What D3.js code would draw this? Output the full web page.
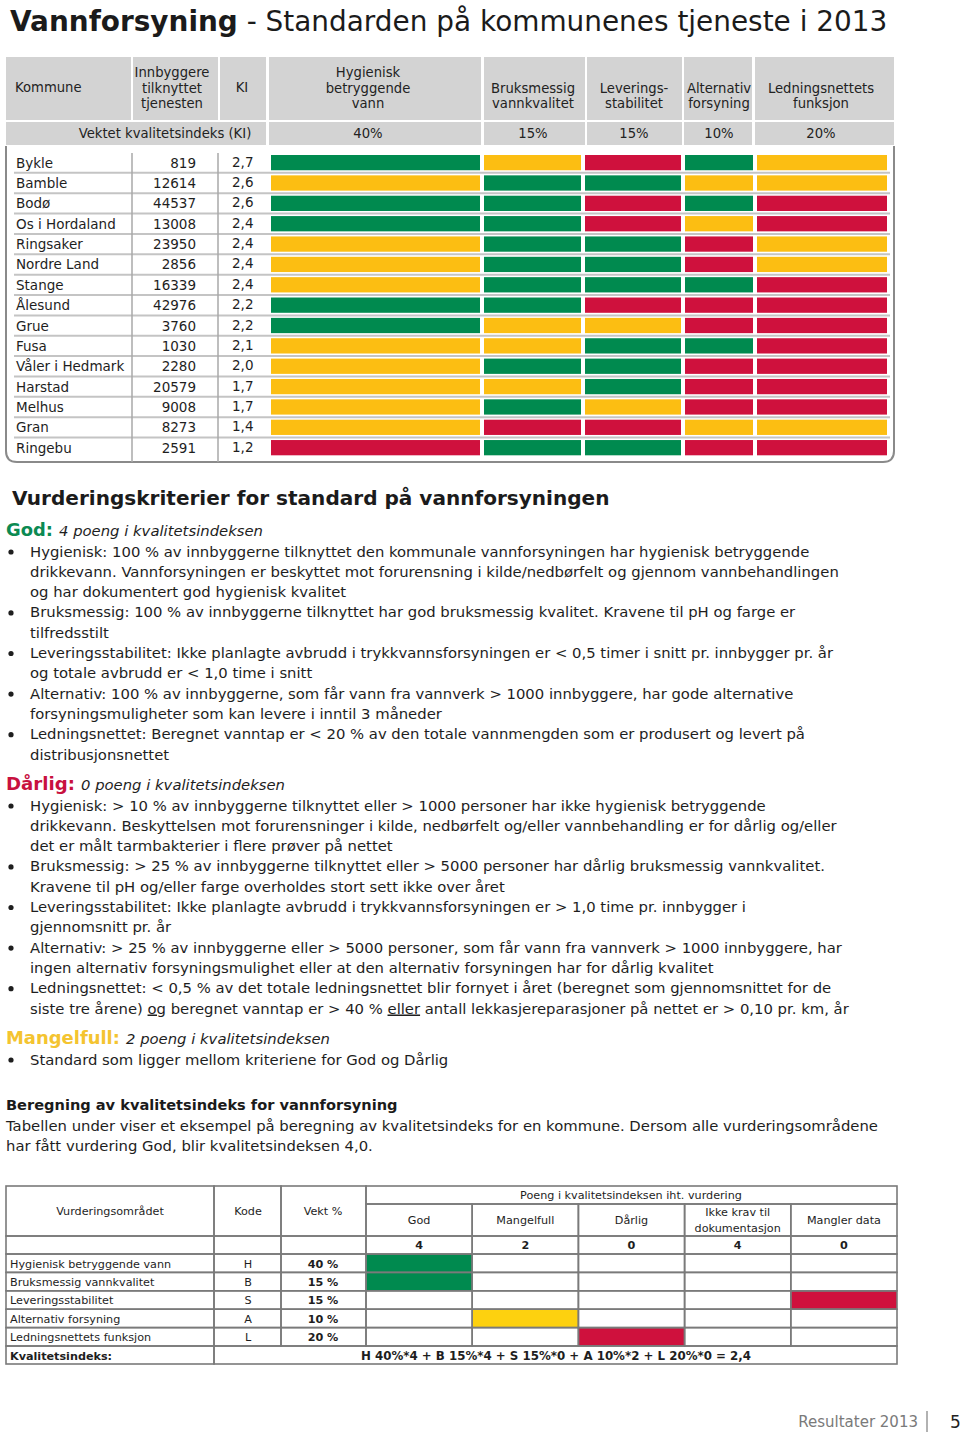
<!DOCTYPE html>
<html><head><meta charset="utf-8">
<script src="https://cdn.jsdelivr.net/npm/d3@7"></script>
<style>body{margin:0;background:#fff}svg{display:block}text{font-family:"DejaVu Sans",Verdana,sans-serif}</style>
</head><body><svg id="c" width="960" height="1434"></svg>
<script>
// ---------------- DATA ----------------
const municipalities = ["Bykle","Bamble","Bodø","Os i Hordaland","Ringsaker","Nordre Land","Stange","Ålesund","Grue","Fusa","Våler i Hedmark","Harstad","Melhus","Gran","Ringebu"];
const population = [819,12614,44537,13008,23950,2856,16339,42976,3760,1030,2280,20579,9008,8273,2591];
const kiValues = [2.7,2.6,2.6,2.4,2.4,2.4,2.4,2.2,2.2,2.1,2.0,1.7,1.7,1.4,1.2];
const criteriaKeys = ["hyg","bruk","lev","alt","led"];
const criteriaLabels = [["Hygienisk","betryggende","vann"],["Bruksmessig","vannkvalitet"],["Leverings-","stabilitet"],["Alternativ","forsyning"],["Ledningsnettets","funksjon"]];
const criteriaWeights = ["40%","15%","15%","10%","20%"];
const ratingHyg  = ["God","Mangelfull","God","God","Mangelfull","Mangelfull","Mangelfull","God","God","Mangelfull","Mangelfull","Mangelfull","Mangelfull","Mangelfull","Dårlig"];
const ratingBruk = ["Mangelfull","God","God","God","God","God","God","God","Mangelfull","Mangelfull","God","Mangelfull","God","Dårlig","God"];
const ratingLev  = ["Dårlig","God","Dårlig","Dårlig","God","God","God","Dårlig","Mangelfull","God","God","God","Mangelfull","Dårlig","God"];
const ratingAlt  = ["God","Mangelfull","God","Mangelfull","Dårlig","Dårlig","God","Dårlig","Dårlig","God","Dårlig","Dårlig","Dårlig","Mangelfull","Dårlig"];
const ratingLed  = ["Mangelfull","Mangelfull","Dårlig","Dårlig","Mangelfull","Mangelfull","Dårlig","Dårlig","Dårlig","Dårlig","Dårlig","Dårlig","Dårlig","Mangelfull","Dårlig"];
const ratings = [ratingHyg, ratingBruk, ratingLev, ratingAlt, ratingLed];

const godLines = [
 ["Hygienisk: 100 % av innbyggerne tilknyttet den kommunale vannforsyningen har hygienisk betryggende","drikkevann. Vannforsyningen er beskyttet mot forurensning i kilde/nedbørfelt og gjennom vannbehandlingen","og har dokumentert god hygienisk kvalitet"],
 ["Bruksmessig: 100 % av innbyggerne tilknyttet har god bruksmessig kvalitet. Kravene til pH og farge er","tilfredsstilt"],
 ["Leveringsstabilitet: Ikke planlagte avbrudd i trykkvannsforsyningen er < 0,5 timer i snitt pr. innbygger pr. år","og totale avbrudd er < 1,0 time i snitt"],
 ["Alternativ: 100 % av innbyggerne, som får vann fra vannverk > 1000 innbyggere, har gode alternative","forsyningsmuligheter som kan levere i inntil 3 måneder"],
 ["Ledningsnettet: Beregnet vanntap er < 20 % av den totale vannmengden som er produsert og levert på","distribusjonsnettet"]
];
const darligLines = [
 ["Hygienisk: > 10 % av innbyggerne tilknyttet eller > 1000 personer har ikke hygienisk betryggende","drikkevann. Beskyttelsen mot forurensninger i kilde, nedbørfelt og/eller vannbehandling er for dårlig og/eller","det er målt tarmbakterier i flere prøver på nettet"],
 ["Bruksmessig: > 25 % av innbyggerne tilknyttet eller > 5000 personer har dårlig bruksmessig vannkvalitet.","Kravene til pH og/eller farge overholdes stort sett ikke over året"],
 ["Leveringsstabilitet: Ikke planlagte avbrudd i trykkvannsforsyningen er > 1,0 time pr. innbygger i","gjennomsnitt pr. år"],
 ["Alternativ: > 25 % av innbyggerne eller > 5000 personer, som får vann fra vannverk > 1000 innbyggere, har","ingen alternativ forsyningsmulighet eller at den alternativ forsyningen har for dårlig kvalitet"],
 ["Ledningsnettet: < 0,5 % av det totale ledningsnettet blir fornyet i året (beregnet som gjennomsnittet for de","siste tre årene) |og| beregnet vanntap er > 40 % |eller| antall lekkasjereparasjoner på nettet er > 0,10 pr. km, år"]
];
const mangelLines = [["Standard som ligger mellom kriteriene for God og Dårlig"]];
const introLines = ["Tabellen under viser et eksempel på beregning av kvalitetsindeks for en kommune. Dersom alle vurderingsområdene","har fått vurdering God, blir kvalitetsindeksen 4,0."];

const exAreas = ["Hygienisk betryggende vann","Bruksmessig vannkvalitet","Leveringsstabilitet","Alternativ forsyning","Ledningsnettets funksjon"];
const exCodes = ["H","B","S","A","L"];
const exWeights = ["40 %","15 %","15 %","10 %","20 %"];
const exRatings = ["God","God","Mangler data","Mangelfull","Dårlig"];
const scoreCols = ["God","Mangelfull","Dårlig","Ikke krav til|dokumentasjon","Mangler data"];
const scorePoints = ["4","2","0","4","0"];
const exFormula = "H 40%*4 + B 15%*4 + S 15%*0 + A 10%*2 + L 20%*0 = 2,4";

// ---------------- DRAW ----------------
const svg = d3.select("#c");
svg.append("rect").attr("width",960).attr("height",1434).attr("fill","#fff");
function fit(sel, target){ const w = sel.node().getComputedTextLength(); const fs = parseFloat(sel.attr("font-size")); const n = fs*target/w; sel.attr("font-size", n); return n; }

// title
const title = svg.append("text").attr("x",10).attr("y",31).attr("font-size",28).attr("fill","#1b1b1b");
title.append("tspan").attr("font-weight","bold").text("Vannforsyning");
title.append("tspan").text(" - Standarden på kommunenes tjeneste i 2013");
fit(title, 878);

// top table
const gray = "#d3d3d3";
const color = d3.scaleOrdinal().domain(["God","Mangelfull","Dårlig"]).range(["#008a4f","#fcbe12","#cf113d"]);
const headX = d3.scaleOrdinal().domain(criteriaKeys).range([[269,481],[484,585],[587,682],[684,752],[755,894]]);
const headTx = d3.scaleOrdinal().domain(criteriaKeys).range([368,533,634,719,821]);
const barX  = d3.scaleOrdinal().domain(criteriaKeys).range([[271,480],[484,581],[585,681],[685,753],[757,887]]);
const y = d3.scaleBand().domain(municipalities).range([155, 155 + 20.36*14.75]).paddingInner(0.25).paddingOuter(0);

const fixedCols = [{lines:["Kommune"],x0:6,x1:131,anchor:"start",tx:15},{lines:["Innbyggere","tilknyttet","tjenesten"],x0:133,x1:218,tx:172},{lines:["KI"],x0:220,x1:266,tx:242}];
const hdr = svg.append("g").attr("font-size",13.2).attr("fill","#222");
function headerCell(lines,x0,x1,anchor,tx){
  hdr.append("rect").attr("x",x0).attr("y",57).attr("width",x1-x0).attr("height",63).attr("fill",gray);
  const n = lines.length;
  lines.forEach((l,i)=>{
    const yy = 108 - (n-1-i)*15.5;
    hdr.append("text").attr("x", tx).attr("y", n===1? 92 : yy)
      .attr("text-anchor", anchor||"middle").text(l);
  });
}
fixedCols.forEach(c=>headerCell(c.lines,c.x0,c.x1,c.anchor,c.tx));
criteriaKeys.forEach((k,i)=>headerCell(criteriaLabels[i], headX(k)[0], headX(k)[1], "middle", headTx(k)));
// weights row
hdr.append("rect").attr("x",6).attr("y",122).attr("width",260).attr("height",23).attr("fill",gray);
hdr.append("text").attr("x",165).attr("y",138).attr("text-anchor","middle").text("Vektet kvalitetsindeks (KI)");
criteriaKeys.forEach((k,i)=>{
  const [x0,x1]=headX(k);
  hdr.append("rect").attr("x",x0).attr("y",122).attr("width",x1-x0).attr("height",23).attr("fill",gray);
  hdr.append("text").attr("x",headTx(k)).attr("y",138).attr("text-anchor","middle").text(criteriaWeights[i]);
});

// body
const body = svg.append("g");
municipalities.forEach((m,i)=>{
  if(i<municipalities.length-1){
    body.append("line").attr("x1",14).attr("x2",890).attr("y1",y(m)+y.bandwidth()+2.6).attr("y2",y(m)+y.bandwidth()+2.6)
      .attr("stroke","#c4c4c4").attr("stroke-width",2);
  }
});
body.append("path").attr("d","M6,146 V451 Q6,462 17,462 H883 Q894,462 894,451 V146").attr("fill","none").attr("stroke","#8a8a8a").attr("stroke-width",2);
[132,218].forEach(x=>body.append("line").attr("x1",x).attr("x2",x).attr("y1",153).attr("y2",462).attr("stroke","#a8a8a8").attr("stroke-width",1.5));
const fmt = v => d3.format(".1f")(v).replace(".",",");
const tg = body.append("g").attr("font-size",13.5).attr("fill","#1e1e1e");
municipalities.forEach((m,i)=>{
  const cy = y(m)+y.bandwidth()/2+5;
  tg.append("text").attr("x",16).attr("y",cy).text(m);
  tg.append("text").attr("x",196).attr("y",cy).attr("text-anchor","end").text(population[i]);
  tg.append("text").attr("x",232).attr("y",cy-1).text(fmt(kiValues[i]));
  criteriaKeys.forEach((k,j)=>{
    const [x0,x1]=barX(k);
    body.append("rect").attr("x",x0).attr("y",y(m)).attr("width",x1-x0).attr("height",y.bandwidth()).attr("fill",color(ratings[j][i]));
  });
});

// criteria text
svg.append("text").attr("x",12).attr("y",505).attr("font-size",20).attr("font-weight","bold").attr("fill","#1b1b1b")
  .text("Vurderingskriterier for standard på vannforsyningen").call(s=>fit(s,598));

const measure = svg.append("text").attr("font-size",14.5).text(godLines[0][0]);
const bodyFs = fit(measure, 780); measure.remove();
const LH = 20.3;

function section(label, labelColor, labelW, italic, italX, yHead, groups){
  const t = svg.append("text").attr("x",6).attr("y",yHead).attr("font-size",19).attr("font-weight","bold").attr("fill",labelColor).text(label);
  fit(t,labelW);
  svg.append("text").attr("x",italX).attr("y",yHead).attr("font-size",bodyFs).attr("font-style","italic").attr("fill","#1e1e1e").text(italic);
  let yy = yHead + 20.5;
  groups.forEach(g=>{
    svg.append("circle").attr("cx",11).attr("cy",yy-4.5).attr("r",2.6).attr("fill","#1e1e1e");
    g.forEach(line=>{
      const tx = svg.append("text").attr("x",30).attr("y",yy).attr("font-size",bodyFs).attr("fill","#1e1e1e");
      line.split("|").forEach((part,pi)=>{
        const ts = tx.append("tspan").text(part);
        if(pi%2===1) ts.attr("text-decoration","underline");
      });
      yy += LH;
    });
  });
}
section("God:", "#0b8a52", 47, "4 poeng i kvalitetsindeksen", 59, 536, godLines);
section("Dårlig:", "#c8113f", 69, "0 poeng i kvalitetsindeksen", 81, 790, darligLines);
section("Mangelfull:", "#f4c430", 114, "2 poeng i kvalitetsindeksen", 126, 1044, mangelLines);

svg.append("text").attr("x",6).attr("y",1110).attr("font-size",14).attr("font-weight","bold").attr("fill","#1b1b1b")
  .text("Beregning av kvalitetsindeks for vannforsyning").call(s=>fit(s,392));
introLines.forEach((l,i)=>svg.append("text").attr("x",6).attr("y",1131+i*LH).attr("font-size",bodyFs).attr("fill","#1e1e1e").text(l));

// example table
const tb = svg.append("g");
const ey = d3.scaleBand().domain(exAreas).range([1254,1346]);
const sc = d3.scaleBand().domain(scoreCols).range([366,897]);
const exColor = d3.scaleOrdinal().domain(["God","Mangelfull","Dårlig","Mangler data"]).range(["#008a4f","#fdd10f","#cf113d","#cf113d"]);
const scoreColOf = r => r==="Mangler data" ? "Mangler data" : r;
const lineC = "#7a7a7a";
function cell(x0,y0,x1,y1){ tb.append("rect").attr("x",x0).attr("y",y0).attr("width",x1-x0).attr("height",y1-y0).attr("fill","none").attr("stroke",lineC).attr("stroke-width",1.6); }
exAreas.forEach((a,i)=>{
  tb.append("rect").attr("x",sc(scoreColOf(exRatings[i]))).attr("y",ey(a)).attr("width",sc.bandwidth()).attr("height",ey.bandwidth()).attr("fill",exColor(exRatings[i]));
});
const tt = tb.append("g").attr("font-size",11.2).attr("fill","#1e1e1e");
cell(6,1186,214,1236); cell(214,1186,281,1236); cell(281,1186,366,1236); cell(366,1186,897,1204);
tt.append("text").attr("x",110).attr("y",1215).attr("text-anchor","middle").text("Vurderingsområdet");
tt.append("text").attr("x",248).attr("y",1215).attr("text-anchor","middle").text("Kode");
tt.append("text").attr("x",323).attr("y",1215).attr("text-anchor","middle").text("Vekt %");
tt.append("text").attr("x",631).attr("y",1199).attr("text-anchor","middle").text("Poeng i kvalitetsindeksen iht. vurdering");
scoreCols.forEach((c,i)=>{
  const x0=sc(c), x1=x0+sc.bandwidth();
  cell(x0,1204,x1,1236); cell(x0,1236,x1,1254);
  const parts=c.split("|");
  parts.forEach((p,pi)=>tt.append("text").attr("x",(x0+x1)/2).attr("y", parts.length===1?1224:1216+pi*15.5).attr("text-anchor","middle").text(p));
  tt.append("text").attr("x",(x0+x1)/2).attr("y",1249).attr("text-anchor","middle").attr("font-weight","bold").text(scorePoints[i]);
  exAreas.forEach(a=>cell(x0,ey(a),x1,ey(a)+ey.bandwidth()));
});
cell(6,1236,214,1254); cell(214,1236,281,1254); cell(281,1236,366,1254);
exAreas.forEach((a,i)=>{
  const y0=ey(a), y1=y0+ey.bandwidth(), by=y0+13.5;
  cell(6,y0,214,y1); cell(214,y0,281,y1); cell(281,y0,366,y1);
  tt.append("text").attr("x",10).attr("y",by).text(a);
  tt.append("text").attr("x",248).attr("y",by).attr("text-anchor","middle").text(exCodes[i]);
  tt.append("text").attr("x",323).attr("y",by).attr("text-anchor","middle").attr("font-weight","bold").text(exWeights[i]);
});
cell(6,1346,214,1364); cell(214,1346,897,1364);
tt.append("text").attr("x",10).attr("y",1360).attr("font-weight","bold").text("Kvalitetsindeks:");
tt.append("text").attr("x",556).attr("y",1360).attr("text-anchor","middle").attr("font-weight","bold").attr("font-size",11.2).text(exFormula).call(s=>fit(s,390));

// footer
svg.append("text").attr("x",918).attr("y",1427).attr("text-anchor","end").attr("font-size",15).attr("fill","#7a7a7a").text("Resultater 2013");
svg.append("line").attr("x1",927).attr("x2",927).attr("y1",1411).attr("y2",1432).attr("stroke","#999").attr("stroke-width",1.5);
svg.append("text").attr("x",950).attr("y",1428).attr("font-size",17).attr("fill","#222").text("5");
</script></body></html>
